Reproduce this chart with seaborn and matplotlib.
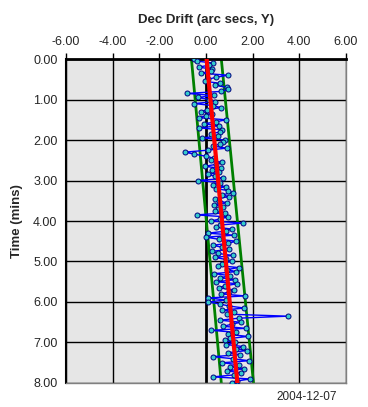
#!/usr/bin/env python
# coding: utf-8
"""
Dec drift vs time, guiding trace with fitted trend and tolerance band.
"""
import numpy as np
import pandas as pd
import seaborn as sns
from matplotlib import pyplot as plt

# drift samples (arc secs), one every 3 seconds
drift = [
    -0.50, -0.40, 0.30, 0.15, -0.30, 0.25, 0.20, -0.20, 0.95, 0.45,
    0.10, -0.05, 0.60, 0.40, 0.90, 0.95, 0.65, -0.80, 0.35, -0.35,
    0.15, 0.40, -0.50, 0.30, 0.65, 0.05, -0.20, 0.25, 0.00, -0.30,
    0.85, 0.45, -0.10, 0.55, -0.30, 0.70, 0.60, 0.20, 0.50, -0.15,
    0.80, 0.75, 0.60, 0.30, 0.90, 0.10, -0.90, -0.50, 0.00, 0.35,
    0.20, 0.70, 0.45, -0.05, 0.65, 0.25, 0.55, 0.10, 0.40, 0.75,
    -0.35, 0.60, 0.30, 0.85, 0.45, 0.95, 1.15, 0.70, 1.00, 0.40,
    0.55, 0.90, 0.35, 0.75, 0.50, 0.40, 0.80, -0.40, 0.95, 0.60,
    0.20, 1.60, 0.60, 0.45, 1.10, 0.85, 0.10, 1.20, 0.00, 0.55,
    1.30, 0.95, 0.30, 0.70, 1.00, 0.25, 0.50, 1.15, 0.40, 0.85,
    1.10, 0.70, 0.50, 1.40, 0.90, 1.30, 0.35, 1.05, 0.60, 1.25,
    0.45, 1.35, 0.80, 0.55, 1.20, 1.00, 0.65, 1.67, 0.10, 0.85,
    0.10, 0.60, 1.00, 1.65, 0.70, 1.20, 0.90, 3.50, 1.40, 0.60,
    1.50, 1.10, 0.75, 1.70, 0.24, 1.30, 0.95, 1.80, 1.05, 0.80,
    1.25, 0.85, 1.60, 1.30, 1.75, 0.95, 1.45, 0.30, 1.15, 1.85,
    0.70, 1.40, 1.05, 1.65, 0.90, 1.50, 1.20, 0.30, 1.90, 1.35, 1.10,
]
sample_secs = 3

# fitted trend and band (start / end of run)
trend_time = [0.0, 8.0]
trend = [0.03, 1.35]
band_lo = [-0.62, 0.66]
band_hi = [0.66, 2.04]

x_ticks = [-6, -4, -2, 0, 2, 4, 6]
y_ticks = [0, 1, 2, 3, 4, 5, 6, 7, 8]
date_label = "2004-12-07"


def main():
    sns.set_style("white")
    plt.rcParams['font.family'] = ['Liberation Sans', 'DejaVu Sans']

    df = pd.DataFrame({"drift": drift})
    df["time"] = np.arange(len(df)) * sample_secs / 60.0
    tdf = pd.DataFrame({"time": trend_time, "trend": trend,
                        "lo": band_lo, "hi": band_hi})

    fig = plt.figure(figsize=(3.68, 4.07), dpi=100)
    ax = fig.add_axes([0.179, 0.059, 0.761, 0.796])
    ax.set_facecolor('#e6e6e6')

    for v in x_ticks:
        ax.axvline(v, color='black', lw=2.0 if v == 0 else 1.0, zorder=1)
    for v in y_ticks:
        ax.axhline(v, color='black', lw=1.0, zorder=1)

    sns.lineplot(data=df, x="drift", y="time", sort=False, estimator=None,
                 color='#0000ff', lw=1, marker='o', markersize=3.6,
                 markerfacecolor='#33cccc', markeredgecolor='#000080',
                 markeredgewidth=0.7, ax=ax, zorder=3)
    sns.lineplot(data=tdf, x="lo", y="time", sort=False, estimator=None,
                 color='#008000', lw=2, ax=ax, zorder=2)
    sns.lineplot(data=tdf, x="hi", y="time", sort=False, estimator=None,
                 color='#008000', lw=2, ax=ax, zorder=2)
    sns.lineplot(data=tdf, x="trend", y="time", sort=False, estimator=None,
                 color='#ff0000', lw=3, ax=ax, zorder=4)

    ax.set_xlim(-6, 6)
    ax.set_ylim(8, 0)
    ax.set_xticks(x_ticks)
    ax.set_yticks(y_ticks)
    ax.set_xticklabels(["{:.2f}".format(v) for v in x_ticks])
    ax.set_yticklabels(["{:.2f}".format(v) for v in y_ticks])
    ax.xaxis.tick_top()
    ax.xaxis.set_label_position('top')
    ax.tick_params(axis='both', labelsize=9, length=4, width=1,
                   color='black', direction='out', pad=2)
    ax.tick_params(axis='x', pad=4)

    ax.set_xlabel("Dec Drift (arc secs, Y)", fontsize=9.5, fontweight='bold',
                  labelpad=9)
    ax.set_ylabel("Time (mins)", fontsize=9.5, fontweight='bold', labelpad=7)

    ax.spines['top'].set_color('black')
    ax.spines['top'].set_linewidth(2)
    ax.spines['left'].set_color('black')
    ax.spines['left'].set_linewidth(1.5)
    for s in ['right', 'bottom']:
        ax.spines[s].set_color('#808080')
        ax.spines[s].set_linewidth(1)

    fig.text(307 / 368, 1 - 397 / 407, date_label, fontsize=8.5,
             ha='center', va='center')

    fig.savefig('out.png', dpi=100)


if __name__ == '__main__':
    main()
